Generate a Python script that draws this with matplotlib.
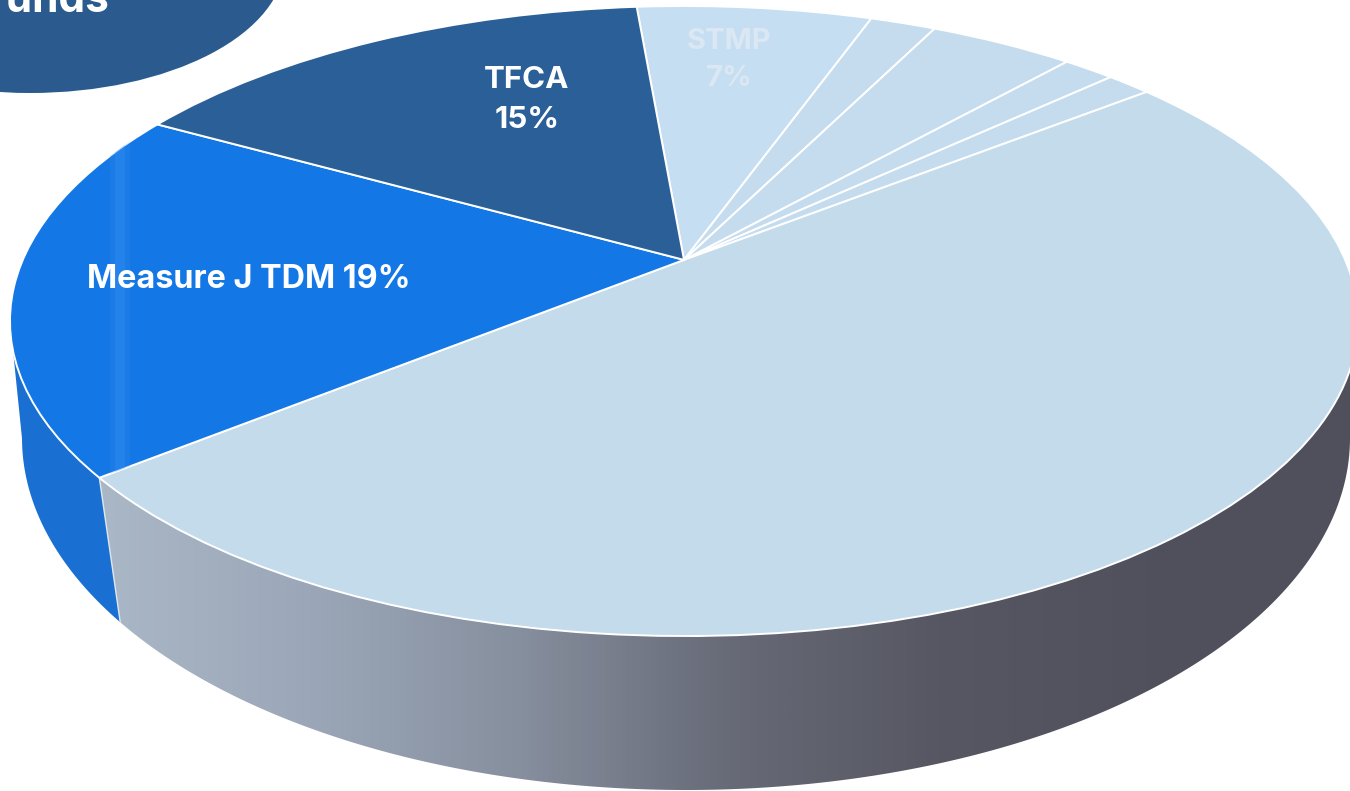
import numpy as np
import matplotlib
matplotlib.use('Agg')
import matplotlib.pyplot as plt
from matplotlib.colors import LinearSegmentedColormap
from matplotlib.patches import Ellipse, Polygon
from matplotlib.transforms import Transform

# Shares, clockwise from the TFCA / STMP border
names = ['STMP', 'Other 1', 'Other 2', 'Other 3', 'Other 4', 'Largest', 'Measure J TDM', 'TFCA']
shares = [6.8, 1.9, 4.2, 1.5, 1.3, 49.8, 19.0, 15.5]
face_colors = ['#c6def2', '#c5dcee', '#c5dcee', '#c5dcee', '#c5dcee', '#c4dbec', '#1477e6', '#2a5f98']
start_angle = 94.9

wall_colors = ['#aab7c6', '#9ba7b8', '#868f9e', '#676a77', '#565762', '#50515c', '#4f505b']
wall_blue = '#1a70d2'
blob_color = '#2b5b8e'


# Tilted circle: moves the pie centre away from the ellipse centre
class PieView(Transform):
    input_dims = 2
    output_dims = 2

    def __init__(self, cx, cy, a, b, p):
        super().__init__()
        self.cx, self.cy, self.a, self.b, self.p = cx, cy, a, b, p

    def transform_non_affine(self, values):
        values = np.asarray(values, dtype=float)
        x, y = values[:, 0], values[:, 1]
        d = 1 + self.p * y
        xn = x * np.sqrt(1 - self.p**2) / d
        yn = (y + self.p) / d
        return np.column_stack((self.cx + self.a * xn, self.cy - self.b * yn))


top = PieView(684, 321, 674, 315, 0.194)
bottom = PieView(686, 438, 664, 352, 0.16)

fig = plt.figure(figsize=(13.5, 7.91), dpi=100)
ax = fig.add_axes([0, 0, 1, 1])

wedges, _ = ax.pie(shares, colors=face_colors, startangle=start_angle, counterclock=False,
                   wedgeprops={'edgecolor': 'white', 'linewidth': 1.4, 'zorder': 3})
for w in wedges:
    w.set_transform(top + ax.transData)

# Side wall, split where the largest slice ends
cut_angle = np.radians(start_angle - 360 * sum(shares[:6]) / sum(shares))
cut = np.array([[np.cos(cut_angle), np.sin(cut_angle)]])
cut_top = top.transform(cut)[0]
cut_bottom = bottom.transform(cut)[0]

t = np.linspace(0, 2 * np.pi, 720)
rim = bottom.transform(np.column_stack((np.cos(t), np.sin(t))))
rim = rim[rim[:, 1] >= bottom.cy]
rim = rim[np.argsort(rim[:, 0])]
left_rim = rim[rim[:, 0] < cut_bottom[0]]
right_rim = rim[rim[:, 0] > cut_bottom[0]]

blue_wall = np.vstack(([[top.cx - top.a, top.cy]], left_rim, [cut_bottom, cut_top]))
ax.add_patch(Polygon(blue_wall, closed=True, facecolor=wall_blue, edgecolor='none', zorder=1))

grey_wall = np.vstack(([cut_top, cut_bottom], right_rim, [[top.cx + top.a, top.cy]]))
grey_clip = Polygon(grey_wall, closed=True, facecolor='none', edgecolor='none', zorder=1)
ax.add_patch(grey_clip)
wall_cmap = LinearSegmentedColormap.from_list('wall', wall_colors)
gradient = np.linspace(0, 1, 512).reshape(1, -1)
im = ax.imshow(gradient, cmap=wall_cmap, aspect='auto', zorder=1,
               extent=[cut_bottom[0] - 20, top.cx + top.a, 800, 0])
im.set_clip_path(grey_clip)
ax.plot([cut_top[0], cut_bottom[0]], [cut_top[1], cut_bottom[1]], color='#dfe7f0', lw=1, zorder=2)

# Pale streak on the Measure J slice
for x0, x1, alpha in [(110, 130, 0.2), (115, 125, 0.3)]:
    streak = ax.axvspan(x0, x1, color='#3c95f2', alpha=alpha, lw=0, zorder=3.5)
    streak.set_clip_path(wedges[6])

ax.add_patch(Ellipse((30, -40), 510, 266, facecolor=blob_color, edgecolor='none', zorder=4))

font = 'Inter'
ax.text(527, 100, 'TFCA\n15%', color='white', fontsize=22.5, family=font, weight='bold',
        ha='center', va='center', linespacing=1.55, zorder=5)
ax.text(249, 280, 'Measure J TDM 19%', color='white', fontsize=23.3, family=font, weight='bold',
        ha='center', va='center', zorder=5)
ax.text(729, 60, 'STMP\n7%', color='#dbe8f4', fontsize=21, family=font, weight='bold',
        ha='center', va='center', linespacing=1.5, zorder=5)
ax.text(-19, 12, 'Funds', color='white', fontsize=30.5, family=font, weight='bold',
        ha='left', va='baseline', zorder=5)

ax.set_aspect('auto')
ax.set_xlim(0, 1350)
ax.set_ylim(791, 0)
ax.axis('off')

plt.savefig('out.png', dpi=100)
